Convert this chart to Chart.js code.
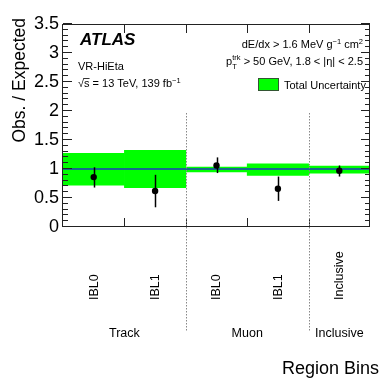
<!DOCTYPE html>
<html>
<head>
<meta charset="utf-8">
<script src="https://cdn.jsdelivr.net/npm/chart.js@4"></script>
<style>
html,body{margin:0;padding:0;background:#fff;}
#wrap{width:390px;height:379px;position:relative;}
</style>
</head>
<body>
<div id="wrap"><canvas id="c" width="390" height="379"></canvas></div>
<script>
// ---- data ----
const bins = ['IBL0', 'IBL1', 'IBL0', 'IBL1', 'Inclusive'];
const obs = [0.86, 0.62, 1.06, 0.66, 0.97];
const errUp = [0.17, 0.28, 0.14, 0.21, 0.09];
const errDown = [0.18, 0.28, 0.13, 0.21, 0.10];
const uncLow = [0.72, 0.68, 0.95, 0.89, 0.93];
const uncHigh = [1.27, 1.32, 1.035, 1.09, 1.05];
const groups = ['Track', 'Muon', 'Inclusive'];
const groupFirst = [0, 2, 4];
const groupLast = [1, 3, 4];
const separators = [1.5, 3.5]; // between bins
const refValue = 1;

const FONT = "'Liberation Sans', Arial, Helvetica, sans-serif";

function richWidth(ctx, segs) {
  let w = 0;
  for (const s of segs) {
    ctx.font = (s.style || '') + ' ' + s.size + 'px ' + FONT;
    w += ctx.measureText(s.t).width;
  }
  return w;
}
function drawRich(ctx, segs, x, y) {
  for (const s of segs) {
    ctx.font = (s.style || '') + ' ' + s.size + 'px ' + FONT;
    ctx.fillText(s.t, x, y + (s.dy || 0));
    x += ctx.measureText(s.t).width;
  }
}

const atlasPlugin = {
  id: 'atlas',
  afterDatasetDraw(chart, args) {
    const ctx = chart.ctx;
    const y = chart.scales.y, a = chart.chartArea;
    if (args.index === 0) {
      // reference line at 1
      ctx.save();
      ctx.strokeStyle = '#1c3ab8';
      ctx.lineWidth = 1.5;
      const py = y.getPixelForValue(refValue);
      ctx.beginPath();
      ctx.moveTo(a.left, py);
      ctx.lineTo(a.right, py);
      ctx.stroke();
      ctx.restore();
    }
  },
  beforeDatasetDraw(chart, args) {
    if (args.index !== 1) return;
    const ctx = chart.ctx;
    const x = chart.scales.x, y = chart.scales.y;
    ctx.save();
    ctx.strokeStyle = '#000';
    ctx.lineWidth = 1.5;
    obs.forEach((v, i) => {
      const px = Math.round(x.getPixelForValue(i)) + 0.5;
      ctx.beginPath();
      ctx.moveTo(px, y.getPixelForValue(v + errUp[i]));
      ctx.lineTo(px, y.getPixelForValue(v - errDown[i]));
      ctx.stroke();
    });
    ctx.restore();
  },
  afterDraw(chart) {
    const ctx = chart.ctx;
    const x = chart.scales.x, y = chart.scales.y, a = chart.chartArea;
    ctx.save();
    // frame
    ctx.strokeStyle = '#222';
    ctx.lineWidth = 1;
    ctx.strokeRect(a.left - 0.5, a.top + 0.5, a.right - a.left, a.bottom - a.top - 1);
    // y ticks (major every 0.5, minor every 0.1), both sides
    for (let k = 0; k <= 35; k++) {
      const v = k / 10;
      const py = Math.round(y.getPixelForValue(v)) - 0.5;
      const len = (k % 5 === 0) ? 9 : 5;
      ctx.beginPath();
      ctx.moveTo(a.left, py); ctx.lineTo(a.left + len, py);
      ctx.moveTo(a.right, py); ctx.lineTo(a.right - len, py);
      ctx.stroke();
    }
    // x ticks at bin edges, top and bottom
    for (let i = 0; i < bins.length - 1; i++) {
      const px = Math.round((x.getPixelForValue(i) + x.getPixelForValue(i + 1)) / 2) + 0.5;
      ctx.beginPath();
      ctx.moveTo(px, a.bottom); ctx.lineTo(px, a.bottom - 9);
      ctx.moveTo(px, a.top); ctx.lineTo(px, a.top + 9);
      ctx.stroke();
    }
    // separators (dotted)
    ctx.strokeStyle = '#888';
    ctx.setLineDash([1.5, 1.5]);
    separators.forEach(s => {
      const px = Math.round((x.getPixelForValue(Math.floor(s)) + x.getPixelForValue(Math.ceil(s))) / 2) + 0.5;
      ctx.beginPath();
      ctx.moveTo(px, 113); ctx.lineTo(px, 331);
      ctx.stroke();
    });
    ctx.setLineDash([]);

    ctx.fillStyle = '#000';
    // bin labels rotated
    ctx.font = '12.5px ' + FONT;
    ctx.textAlign = 'left';
    ctx.textBaseline = 'middle';
    bins.forEach((b, i) => {
      const px = x.getPixelForValue(i);
      ctx.save();
      ctx.translate(px + 0.5, 300);
      ctx.rotate(-Math.PI / 2);
      ctx.fillText(b, 0, 0);
      ctx.restore();
    });
    // group labels
    ctx.textAlign = 'center';
    ctx.textBaseline = 'alphabetic';
    groups.forEach((g, i) => {
      const px = (x.getPixelForValue(groupFirst[i]) + x.getPixelForValue(groupLast[i])) / 2;
      ctx.fillText(g, px, 337);
    });
    // axis titles
    ctx.font = '18px ' + FONT;
    ctx.textAlign = 'right';
    ctx.fillText('Region Bins', 379, 374);
    ctx.save();
    ctx.translate(25, 18);
    ctx.rotate(-Math.PI / 2);
    ctx.font = '17.5px ' + FONT;
    ctx.textAlign = 'right';
    ctx.fillText('Obs. / Expected', 0, 0);
    ctx.restore();

    // ATLAS label
    ctx.textAlign = 'left';
    ctx.font = 'italic bold 17px ' + FONT;
    ctx.fillText('ATLAS', 80, 45);
    ctx.font = '11px ' + FONT;
    ctx.fillText('VR-HiEta', 78, 70);
    // sqrt s line
    const s1 = [{t: '\u221As = 13 TeV, 139 fb', size: 11}, {t: '\u22121', size: 7.5, dy: -4.5}];
    drawRich(ctx, s1, 78, 87);
    // overline over s
    ctx.font = '11px ' + FONT;
    const wr = ctx.measureText('\u221A').width;
    const ws = ctx.measureText('s').width;
    ctx.lineWidth = 0.8;
    ctx.strokeStyle = '#000';
    ctx.beginPath();
    ctx.moveTo(78 + wr - 0.5, 78.5); ctx.lineTo(78 + wr + ws, 78.5);
    ctx.stroke();

    // right text
    const rEnd = 363;
    const r1 = [{t: 'dE/dx > 1.6 MeV g', size: 11}, {t: '\u22121', size: 7.5, dy: -4.5},
                {t: ' cm', size: 11}, {t: '2', size: 7.5, dy: -4.5}];
    drawRich(ctx, r1, rEnd - richWidth(ctx, r1), 48);

    const rest = [{t: ' > 50 GeV, 1.8 < |\u03B7| < 2.5', size: 11}];
    ctx.font = '11px ' + FONT;
    const wp = ctx.measureText('p').width;
    ctx.font = '7.5px ' + FONT;
    const wsup = Math.max(ctx.measureText('trk').width, ctx.measureText('T').width);
    const total = wp + wsup + richWidth(ctx, rest);
    let px0 = rEnd - total;
    ctx.font = '11px ' + FONT;
    ctx.fillText('p', px0, 65);
    ctx.font = '7.5px ' + FONT;
    ctx.fillText('trk', px0 + wp, 60);
    ctx.fillText('T', px0 + wp, 69);
    drawRich(ctx, rest, px0 + wp + wsup, 65);

    // legend
    ctx.fillStyle = '#00ff00';
    ctx.fillRect(258, 78, 20, 12);
    ctx.strokeStyle = '#335533';
    ctx.lineWidth = 1;
    ctx.strokeRect(258.5, 78.5, 20, 12);
    ctx.fillStyle = '#000';
    ctx.font = '11px ' + FONT;
    ctx.fillText('Total Uncertainty', 284, 89);
    ctx.restore();
  }
};

new Chart(document.getElementById('c'), {
  type: 'bar',
  data: {
    labels: bins,
    datasets: [
      {
        type: 'bar',
        label: 'Total Uncertainty',
        data: bins.map((_, i) => [uncLow[i], uncHigh[i]]),
        backgroundColor: '#00ff00',
        borderWidth: 0,
        barPercentage: 1.0,
        categoryPercentage: 1.0,
        order: 2
      },
      {
        type: 'line',
        label: 'Data',
        data: obs,
        showLine: false,
        pointRadius: 3.2,
        pointBackgroundColor: '#000',
        pointBorderColor: '#000',
        pointBorderWidth: 0,
        order: 1
      }
    ]
  },
  options: {
    responsive: false,
    animation: false,
    devicePixelRatio: 1,
    layout: { padding: { top: 24, right: 20, left: 0, bottom: 0 } },
    plugins: { legend: { display: false }, tooltip: { enabled: false }, title: { display: false } },
    scales: {
      x: {
        offset: true,
        grid: { display: false, drawTicks: false },
        border: { display: false },
        ticks: { display: false },
        afterFit(s) { s.height = 152; }
      },
      y: {
        min: 0,
        max: 3.5,
        grid: { display: false, drawTicks: false },
        border: { display: false },
        ticks: {
          stepSize: 0.5,
          padding: 4,
          color: '#000',
          font: { family: FONT, size: 18 },
          callback: (v) => String(Math.round(v * 10) / 10)
        },
        afterFit(s) { s.width = 63; }
      }
    }
  },
  plugins: [atlasPlugin]
});
</script>
</body>
</html>
